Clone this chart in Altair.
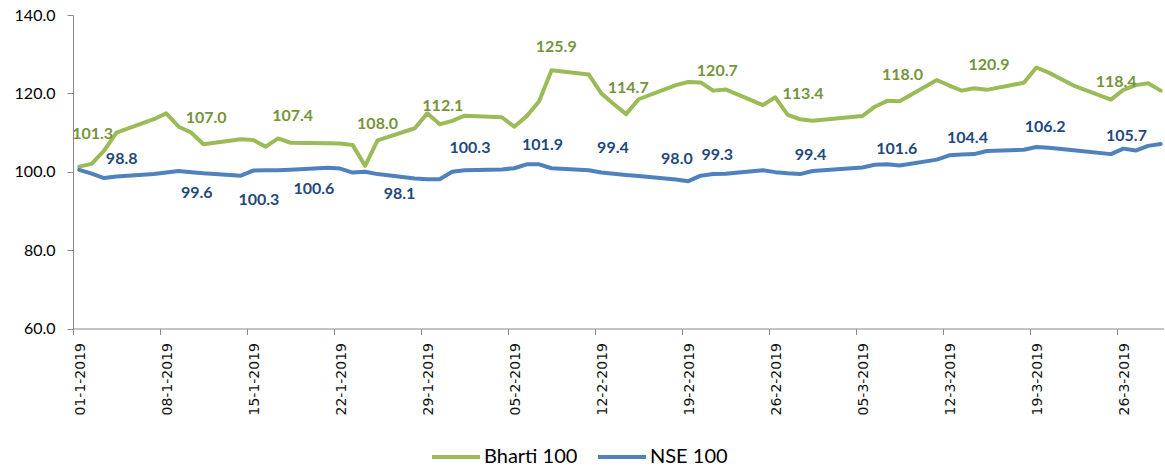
import altair as alt
import pandas as pd

# ---------------- data ----------------
trade_days = [
    "2019-01-01", "2019-01-02", "2019-01-03", "2019-01-04", "2019-01-07", "2019-01-08",
    "2019-01-09", "2019-01-10", "2019-01-11", "2019-01-14", "2019-01-15", "2019-01-16",
    "2019-01-17", "2019-01-18", "2019-01-21", "2019-01-22", "2019-01-23", "2019-01-24",
    "2019-01-25", "2019-01-28", "2019-01-29", "2019-01-30", "2019-01-31",
    "2019-02-01", "2019-02-04", "2019-02-05", "2019-02-06", "2019-02-07", "2019-02-08",
    "2019-02-11", "2019-02-12", "2019-02-13", "2019-02-14", "2019-02-15", "2019-02-18",
    "2019-02-19", "2019-02-20", "2019-02-21", "2019-02-22", "2019-02-25", "2019-02-26",
    "2019-02-27", "2019-02-28",
    "2019-03-01", "2019-03-05", "2019-03-06", "2019-03-07", "2019-03-08", "2019-03-11",
    "2019-03-12", "2019-03-13", "2019-03-14", "2019-03-15", "2019-03-18", "2019-03-19",
    "2019-03-20", "2019-03-22", "2019-03-25", "2019-03-26", "2019-03-27", "2019-03-28",
    "2019-03-29",
]

bharti_100 = [
    101.3, 102.0, 105.4, 110.0, 113.4, 114.9, 111.5, 110.0, 107.0, 108.3, 108.1, 106.4,
    108.5, 107.4, 107.3, 107.2, 106.8, 101.5, 108.0, 111.1, 114.9, 112.1, 113.0,
    114.3, 113.9, 111.5, 114.2, 118.0, 125.9, 124.8, 120.0, 117.3, 114.7, 118.5, 122.1,
    122.9, 122.8, 120.7, 121.0, 117.0, 119.0, 114.5, 113.4,
    113.0, 114.2, 116.6, 118.1, 118.0, 123.4, 122.0, 120.7, 121.3, 120.9, 122.7, 126.6,
    125.3, 122.0, 118.4, 120.9, 122.1, 122.6, 120.7,
]

nse_100 = [
    100.5, 99.5, 98.4, 98.8, 99.4, 99.8, 100.2, 99.9, 99.6, 99.0, 100.3, 100.4,
    100.4, 100.5, 101.0, 100.8, 99.8, 100.0, 99.4, 98.3, 98.1, 98.1, 100.0,
    100.4, 100.6, 100.9, 101.9, 101.9, 100.9, 100.4, 99.8, 99.5, 99.2, 98.9, 98.0,
    97.6, 99.0, 99.4, 99.5, 100.4, 99.9, 99.6, 99.4,
    100.2, 101.1, 101.8, 101.9, 101.6, 103.1, 104.2, 104.4, 104.5, 105.3, 105.6, 106.3,
    106.1, 105.5, 104.5, 105.9, 105.4, 106.6, 107.1,
]

series_names = ["Bharti 100", "NSE 100"]
series_colors = ["#9BBB59", "#4F81BD"]

# data labels (where each label sits)
bharti_label_dates = [
    "2019-01-02T14:00", "2019-01-11T17:00", "2019-01-18T16:00", "2019-01-25T12:00",
    "2019-01-30T18:00", "2019-02-08T21:00", "2019-02-14T16:00", "2019-02-21T20:00",
    "2019-02-28T17:30", "2019-03-08T17:30", "2019-03-15T16:30", "2019-03-25T22:00",
]
bharti_label_text = ["101.3", "107.0", "107.4", "108.0", "112.1", "125.9", "114.7",
                     "120.7", "113.4", "118.0", "120.9", "118.4"]
bharti_label_y = [109.6, 113.8, 114.1, 112.2, 116.8, 131.8, 121.4, 125.7, 119.8,
                  124.6, 127.2, 122.9]

nse_label_dates = [
    "2019-01-04T22:00", "2019-01-10T23:00", "2019-01-15T23:00", "2019-01-20T09:00",
    "2019-01-27T06:30", "2019-02-01T22:30", "2019-02-07T18:30", "2019-02-13T10:30",
    "2019-02-18T14:00", "2019-02-21T20:00", "2019-03-01T08:00", "2019-03-08T06:30",
    "2019-03-13T23:00", "2019-03-20T05:00", "2019-03-26T18:00",
]
nse_label_text = ["98.8", "99.6", "100.3", "100.6", "98.1", "100.3", "101.9", "99.4",
                  "98.0", "99.3", "99.4", "101.6", "104.4", "106.2", "105.7"]
nse_label_y = [103.2, 94.7, 92.7, 95.6, 94.3, 106.1, 106.9, 106.1, 103.2, 104.4,
               104.4, 105.8, 108.6, 111.5, 109.0]

x_tick_dates = [
    (1, 1), (1, 8), (1, 15), (1, 22), (1, 29), (2, 5), (2, 12), (2, 19), (2, 26),
    (3, 5), (3, 12), (3, 19), (3, 26),
]
y_ticks = [60, 80, 100, 120, 140]

# ---------------- tables ----------------
rows = []
for d, b, n in zip(trade_days, bharti_100, nse_100):
    rows.append({"date": d + "T12:00:00Z", "series": series_names[0], "value": b})
    rows.append({"date": d + "T12:00:00Z", "series": series_names[1], "value": n})
lines_df = pd.DataFrame(rows)

bl_df = pd.DataFrame({"date": [d + ":00Z" for d in bharti_label_dates],
                      "y": bharti_label_y, "text": bharti_label_text})
nl_df = pd.DataFrame({"date": [d + ":00Z" for d in nse_label_dates],
                      "y": nse_label_y, "text": nse_label_text})

x_scale = alt.Scale(
    type="utc",
    domain=[alt.DateTime(year=2019, month=1, date=1, utc=True),
            alt.DateTime(year=2019, month=3, date=29, hours=18, minutes=30, utc=True)],
)
y_scale = alt.Scale(domain=[60, 140], nice=False, zero=False)

axis_grey = "#898989"

x_axis = alt.Axis(
    values=[alt.DateTime(year=2019, month=m, date=d, utc=True) for m, d in x_tick_dates],
    format="%d-%-m-%Y", labelAngle=270, labelOffset=7, labelPadding=8, tickSize=6,
    grid=False, domainColor=axis_grey, tickColor=axis_grey, labelFont="DejaVu Sans",
    labelFontSize=14, labelFontWeight="normal", labelColor="#111111", title=None,
    labelFlush=False, labelOverlap=False,
)
y_axis = alt.Axis(
    values=y_ticks, format=".1f", tickSize=6, labelPadding=12, grid=False,
    domainColor=axis_grey, tickColor=axis_grey, labelFont="Lato", labelFontSize=16,
    labelColor="#000000", title=None,
)

lines = alt.Chart(lines_df).mark_line(
    strokeWidth=4, strokeCap="round", strokeJoin="round"
).encode(
    x=alt.X("date:T", scale=x_scale, axis=x_axis),
    y=alt.Y("value:Q", scale=y_scale, axis=y_axis),
    color=alt.Color(
        "series:N",
        scale=alt.Scale(domain=series_names, range=series_colors),
        legend=alt.Legend(
            orient="none", legendX=357, legendY=416, direction="horizontal", title=None,
            symbolType="stroke", symbolSize=2304, symbolStrokeWidth=4,
            labelFont="Lato", labelFontSize=20, labelColor="#000000",
            columnPadding=12, labelOffset=2, padding=0,
        ),
    ),
    detail="series:N",
)

bl_text = alt.Chart(bl_df).mark_text(
    font="Lato", fontWeight="bold", fontSize=16, color="#77933C",
    align="center", baseline="middle",
).encode(
    x=alt.X("date:T", scale=x_scale),
    y=alt.Y("y:Q", scale=y_scale),
    text="text:N",
)

nl_text = alt.Chart(nl_df).mark_text(
    font="Lato", fontWeight="bold", fontSize=16, color="#1F497D",
    align="center", baseline="middle",
).encode(
    x=alt.X("date:T", scale=x_scale),
    y=alt.Y("y:Q", scale=y_scale),
    text="text:N",
)

chart = alt.layer(lines, bl_text, nl_text).properties(
    width=1091,
    height=313.5,
    autosize=alt.AutoSizeParams(type="none"),
    padding={"left": 73, "top": 15, "right": 0, "bottom": 138.5},
).configure_view(stroke=None)

chart.save("out.html", embed_options={"renderer": "svg", "actions": False})
